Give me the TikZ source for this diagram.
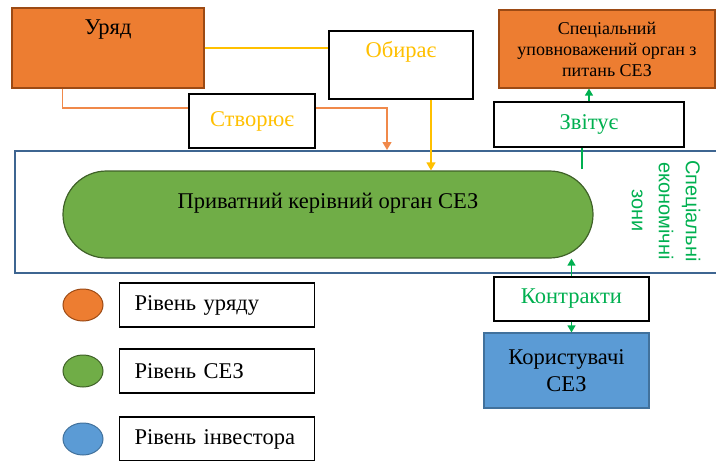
\documentclass[tikz,border=0pt]{standalone}
\usepackage{fontspec}
\setmainfont{Liberation Serif}
\setsansfont{Liberation Sans}
\usetikzlibrary{arrows.meta}
\usetikzlibrary{shapes.misc,shapes.geometric}
\definecolor{govfill}{HTML}{ED7D31}
\definecolor{govdraw}{HTML}{9C4A14}
\definecolor{sezfill}{HTML}{70AD47}
\definecolor{sezdraw}{HTML}{3F6128}
\definecolor{invfill}{HTML}{5B9BD5}
\definecolor{invdraw}{HTML}{41719C}
\definecolor{zoneblue}{HTML}{3E6591}
\definecolor{linkyellow}{HTML}{FFC000}
\definecolor{linkorange}{HTML}{F0894A}
\definecolor{linkgreen}{HTML}{00B050}
\tikzset{
  every node/.append style={font=\fontsize{22.5pt}{26pt}\selectfont},
  govbox/.style={draw=govdraw, fill=govfill, line width=1.2pt, inner sep=0pt},
  sezshape/.style={rounded rectangle, draw=sezdraw, fill=sezfill, line width=1.2pt, inner sep=0pt},
  invbox/.style={draw=invdraw, fill=invfill, line width=1.2pt, inner sep=0pt},
  actbox/.style={draw=black, fill=white, line width=1.5pt, inner sep=0pt},
  zonebox/.style={draw=zoneblue, line width=1.5pt, inner sep=0pt},
  zonetext/.style={text=linkgreen, align=center, font=\sffamily\fontsize{20pt}{27pt}\selectfont},
  yellowlink/.style={draw=linkyellow, line width=1.3pt},
  orangelink/.style={draw=linkorange, line width=1.3pt},
  greenlink/.style={draw=linkgreen, line width=1.3pt},
  arrowtip/.style={-{Triangle[width=9pt,length=8pt]}},
  leveldot/.style={ellipse, line width=1pt, minimum width=40pt, minimum height=32pt, inner sep=0pt},
  levelbox/.style={draw=black, line width=1.2pt, minimum height=44pt, text width=165pt, inner xsep=15pt, align=left},
}
\newcommand{\levelrow}[5]{\node[leveldot, fill=#3, draw=#4] (#1dot) at (83,#2) {};
  \node[levelbox, anchor=west] (#1box) at (119,#2) {#5};}
\begin{document}
\begin{tikzpicture}[x=1pt,y=-1pt]
        \useasboundingbox (0,0) rectangle (716,461);
        % zone frame
        \node[zonebox, anchor=north west, minimum width=712pt, minimum height=122pt] (zone) at (14,150) {};
        \node[zonetext, rotate=-90] (zonelabel) at (666,211) {Спеціальні\\економічні\\зони};
        % government level
        \node[govbox, minimum width=192pt, minimum height=80pt,
              label={[anchor=center, yshift=-22pt]north:Уряд}] (uryad) at (108,48) {};
        \node[govbox, minimum width=216pt, minimum height=78pt, align=center,
              font=\fontsize{18pt}{21pt}\selectfont] (spec) at (607,49) {Спеціальний\\уповноважений орган з\\питань СЕЗ};
        % actions
        \node[actbox, minimum width=144pt, minimum height=68pt,
              label={[text=linkyellow, anchor=center, yshift=-22pt]north:Обирає}] (obirae) at (401,65) {};
        \node[actbox, minimum width=126pt, minimum height=54pt, text=linkyellow] (sozd) at (252,121) {Створює};
        \node[actbox, minimum width=190pt, minimum height=45pt, text=linkgreen] (zvit) at (589,124.5) {Звітує};
        \node[actbox, minimum width=155pt, minimum height=44pt, text=linkgreen] (contract) at (571.5,299) {Контракти};
        % SEZ level
        \node[sezshape, minimum width=530pt, minimum height=87pt,
              label={[anchor=center, yshift=-33pt]north:Приватний керівний орган СЕЗ}] (private) at (328,214.5) {};
        % investor level
        \node[invbox, minimum width=165pt, minimum height=75pt, align=center] (users) at (566.5,370.5) {Користувачі\\[1pt]СЕЗ};
        % links
        \draw[yellowlink] (uryad.east) -- (uryad.east -| obirae.west);
        \draw[yellowlink, arrowtip] ([xshift=30pt]obirae.south) -- ([xshift=30pt]obirae.south |- private.north);
        \coordinate (sozdturn) at (387,108);
        \draw[orangelink] ([xshift=51pt]uryad.south west) |- (sozdturn -| sozd.west);
        \draw[orangelink, arrowtip] (sozdturn -| sozd.east) -- (sozdturn) -- (sozdturn |- zone.north);
        \coordinate (zvitfoot) at (582,169);
        \draw[greenlink] (zvitfoot) -- (zvitfoot |- zvit.south);
        \draw[greenlink, -{Triangle[width=8pt,length=7pt]}] (zvit.north) -- (zvit.north |- spec.south);
        \draw[greenlink, -{Triangle[width=8pt,length=7pt]}] (contract.north) -- (contract.north |- private.south);
        \draw[greenlink, -{Triangle[width=8pt,length=7pt]}] (contract.south) -- (contract.south |- users.north);
        % legend
        \levelrow{gov}{305}{govfill}{govdraw}{Рівень уряду}
        \levelrow{sez}{371}{sezfill}{sezdraw}{Рівень СЕЗ}
        \levelrow{inv}{439}{invfill}{invdraw}{Рівень інвестора}
\end{tikzpicture}
\end{document}
